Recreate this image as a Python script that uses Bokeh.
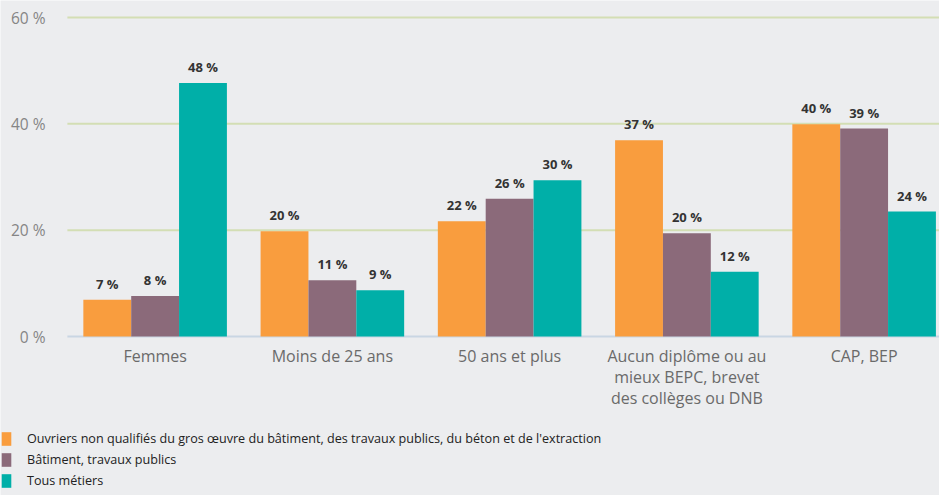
from bokeh.plotting import figure
from bokeh.models import ColumnDataSource, Range1d, Legend, LegendItem
from bokeh.core.properties import value
from bokeh.embed import file_html
from bokeh.resources import INLINE

categories = ["Femmes", "Moins de 25 ans", "50 ans et plus",
              "Aucun diplôme ou au\nmieux BEPC, brevet\ndes collèges ou DNB", "CAP, BEP"]
series_names = ["Ouvriers non qualifiés du gros œuvre du bâtiment, des travaux publics, du béton et de l'extraction",
                "Bâtiment, travaux publics", "Tous métiers"]
ouvriers = [6.9, 19.8, 21.7, 36.9, 39.9]
btp = [7.6, 10.6, 25.9, 19.4, 39.1]
tous = [47.7, 8.7, 29.4, 12.2, 23.5]
labels_ouvriers = ["7 %", "20 %", "22 %", "37 %", "40 %"]
labels_btp = ["8 %", "11 %", "26 %", "20 %", "39 %"]
labels_tous = ["48 %", "9 %", "30 %", "12 %", "24 %"]
y_ticks = [0, 20, 40, 60]

colors = ["#F99D3E", "#8B6A7A", "#00AFA8"]
BG = "#ECEDEF"
FONT = "Open Sans"

W, H = 939, 495
left_px, top_px, zero_px = 66, 17, 336
cat_px = 177.25
px_per_pct = (zero_px - top_px) / y_ticks[-1]

x_start = -left_px / cat_px
x_end = (W - left_px) / cat_px
y_end = y_ticks[-1] + top_px / px_per_pct
y_start = -(H - zero_px) / px_per_pct

centers = [i + 0.5 for i in range(len(categories))]
bar_w = 0.27
offsets = [-bar_w, 0.0, bar_w]

p = figure(width=W, height=H, output_backend="svg", toolbar_location=None,
           x_range=Range1d(x_start, x_end), y_range=Range1d(y_start, y_end),
           min_border=0)
p.background_fill_color = BG
p.border_fill_color = BG
p.outline_line_color = None
p.axis.visible = False
p.grid.visible = False

# grid lines
grid_src = ColumnDataSource(dict(x0=[0.005] * len(y_ticks), x1=[x_end] * len(y_ticks), y=y_ticks,
                                 c=["#C9D6E3" if t == 0 else "#D3DEB4" for t in y_ticks],
                                 lab=[f"{t} %" for t in y_ticks], lx=[0] * len(y_ticks)))
p.segment(x0="x0", y0="y", x1="x1", y1="y", line_color="c", line_width=2, source=grid_src)
p.text(x="lx", y="y", text="lab", source=grid_src, x_offset=-21, text_align="right",
       text_baseline="middle", text_font=value(FONT), text_font_size="15.5px", text_color="#858585")

# category labels
cat_src = ColumnDataSource(dict(x=centers, y=[0] * len(centers), lab=categories))
p.text(x="x", y="y", text="lab", source=cat_src, y_offset=8, text_align="center",
       text_baseline="top", text_line_height=0.96, text_font=value(FONT),
       text_font_size="16px", text_color="#6A6A6A")

renderers = []
for vals, labs, off, col in zip([ouvriers, btp, tous], [labels_ouvriers, labels_btp, labels_tous], offsets, colors):
    src = ColumnDataSource(dict(x=[c + off for c in centers], top=vals, lab=labs))
    r = p.vbar(x="x", top="top", bottom=0, width=bar_w, source=src, fill_color=col, line_color=None)
    renderers.append(r)
    p.text(x="x", y="top", text="lab", source=src, text_align="center", text_baseline="bottom",
           y_offset=-7, text_font=value(FONT), text_font_style="bold", text_font_size="13px",
           text_color="#333333")

legend = Legend(items=[LegendItem(label=n, renderers=[r]) for n, r in zip(series_names, renderers)],
                location=(0, 6), orientation="vertical",
                glyph_width=12, glyph_height=17, label_height=17, spacing=4,
                padding=0, margin=0, label_standoff=15,
                border_line_color=None, background_fill_alpha=0,
                label_text_font=FONT, label_text_font_size="12.6px", label_text_color="#222222")
p.add_layout(legend, "center")

open("out.html", "w").write(file_html(p, INLINE))
